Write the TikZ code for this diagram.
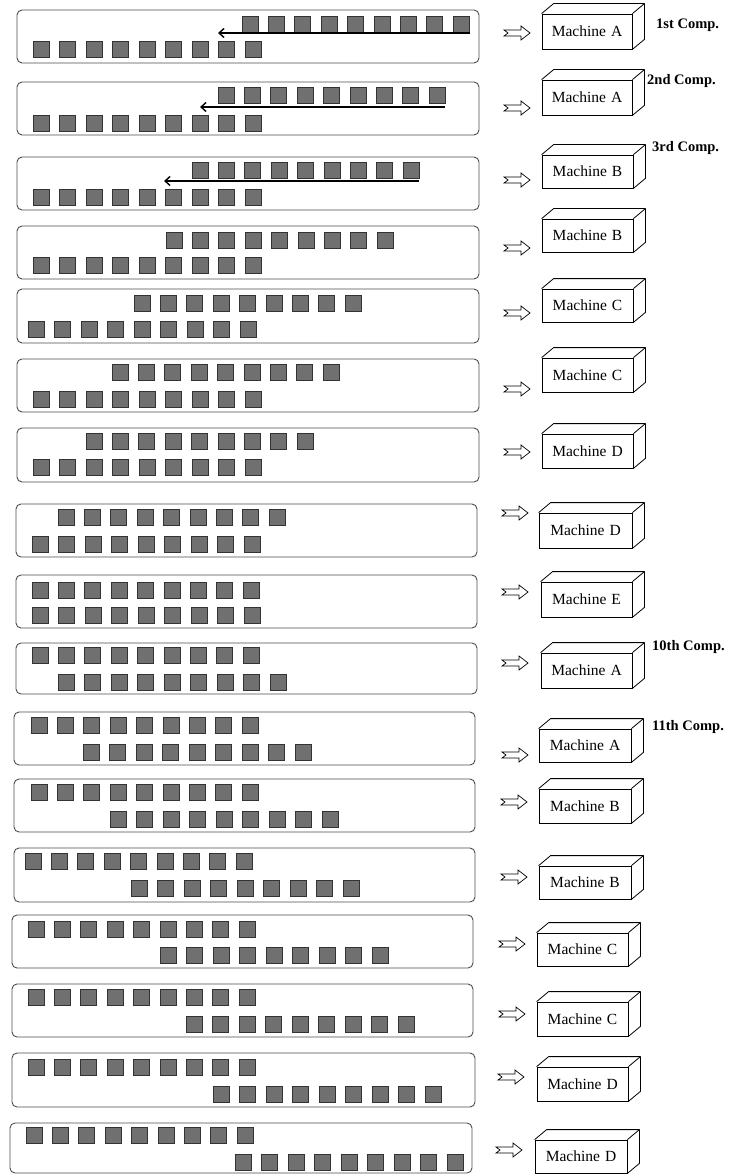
\documentclass[tikz,border=0pt]{standalone}
\usepackage{fontspec}
\setmainfont{Liberation Serif}
\usetikzlibrary{arrows.meta}
\begin{document}
\begin{tikzpicture}[x=1pt,y=-1pt,
  rowbox/.style={draw=black!70, line width=0.9pt, rounded corners=5pt},
  part/.style={fill=black!56, draw=black!80, line width=0.8pt},
  flow/.style={line width=1.6pt, -{Straight Barb[length=5pt,width=9pt,line width=1.4pt]}},
  front/.style={draw, line width=0.8pt, inner sep=0pt, font=\fontsize{15.5}{15.5}\selectfont},
  face/.style={draw, line width=0.8pt, line join=round},
  feed/.style={draw, line width=0.7pt},
  comp/.style={anchor=west, font=\bfseries\fontsize{14.5}{14.5}\selectfont, inner sep=0pt}]
\useasboundingbox (0,0) rectangle (735,1174);

% row frames
\foreach \l/\t/\r/\b in {17/10/479/63, 17/82/479/135, 17/157/479/210, 17/226/479/279,
  17/289/479/343, 17/359/479/412, 17/428/479/482, 16/504/477/557, 16/575/477/628,
  16/643/477/694, 14/712/475/765, 14/779/475/832, 14/848/475/902, 12/915/473/968,
  12/984/473/1037, 12/1053/475/1107, 10/1123/472/1173}
  {\draw[rowbox] (\l,\t) rectangle (\r,\b);}

% parts (two rows of nine in each frame)
\foreach \tx/\ty/\bx/\by in {242/16/33/41, 218/87/33/115, 192/162/33/189, 166/232/33/257,
  134/295/28/321, 112/364/33/391, 86/433/33/459, 58/509/32/536, 32/582/32/607,
  32/647/58/674, 31/717/83/744, 31/784/110/811, 25/853/131/880, 28/921/160/947,
  28/989/186/1016, 28/1059/213/1086, 26/1127/235/1154}
  {\foreach \k in {0,...,8}{
     \path[part] (\tx+26.4*\k,\ty) rectangle ++(16,16);
     \path[part] (\bx+26.5*\k,\by) rectangle ++(16,16);}}

% transfer arrows in the first three frames
\coordinate (s1) at (470,33);  \coordinate (e1) at (218,33);
\coordinate (s2) at (445,107); \coordinate (e2) at (200,107);
\coordinate (s3) at (419,181); \coordinate (e3) at (164,181);
\foreach \i in {1,2,3}{\draw[flow] (s\i) -- (e\i);}

% feed arrows
\foreach \x/\y in {504/33, 504/108, 504/180, 504/248, 504/313, 504/389, 504/452,
  502/513, 502/592, 502/663, 502/755, 501/802, 501/877, 499/944, 499/1014,
  498/1077, 496/1150}
  {\draw[feed] (\x,\y-3) -- (\x+17,\y-3) -- (\x+17,\y-7) -- (\x+26,\y)
     -- (\x+17,\y+7) -- (\x+17,\y+3) -- (\x,\y+3) -- (\x+4,\y) -- cycle;}

% machines
\foreach \i/\l/\r/\t/\b/\L in {1/542/632/14/49/A, 2/542/632/80/115/A, 3/542/633/155/188/B,
  4/542/633/219/252/B, 5/542/633/289/322/C, 6/542/633/358/392/C, 7/542/633/434/468/D,
  8/539/632/513/548/D, 9/541/632/582/617/E, 10/541/632/653/688/A, 11/539/631/729/762/A,
  12/539/631/789/823/B, 13/539/631/866/899/B, 14/537/628/933/966/C, 15/537/628/1002/1036/C,
  16/537/628/1067/1101/D, 17/535/627/1140/1173/D}
  {\node[front, minimum width={\r pt-\l pt}, minimum height={\b pt-\t pt}]
     (m\i) at ({(\l+\r)/2},{(\t+\b)/2}) {Machine\hspace{5pt}\L};
   \draw[face] (m\i.north west) -- ([shift={(12,-10)}]m\i.north west)
     -- ([shift={(12,-10)}]m\i.north east) -- ([shift={(12,-10)}]m\i.south east)
     -- (m\i.south east);
   \draw[face] (m\i.north east) -- ([shift={(12,-10)}]m\i.north east);}

% completion labels
\node[comp] (c1) at (656,25) {1st Comp.};
\node[comp] (c2) at (647,81) {2nd Comp.};
\node[comp] (c3) at (652,148) {3rd Comp.};
\node[comp] (c10) at (652,647) {10th Comp.};
\node[comp] (c11) at (652,727) {11th Comp.};
\end{tikzpicture}
\end{document}
